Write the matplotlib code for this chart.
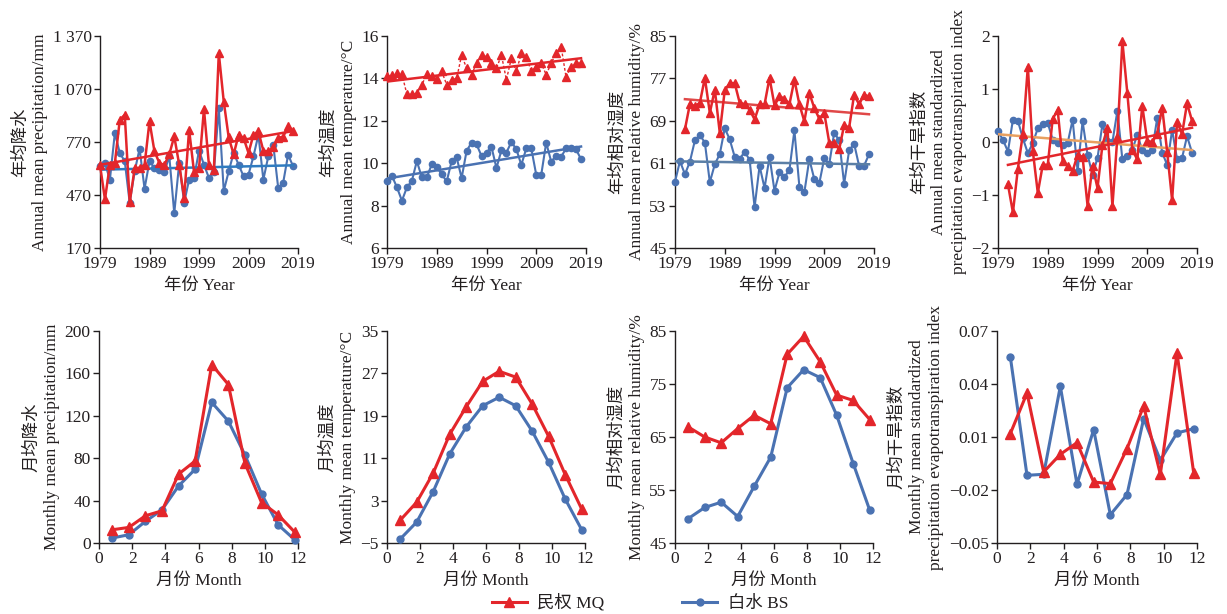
import numpy as np
import matplotlib
matplotlib.use('Agg')
import matplotlib.pyplot as plt
from matplotlib.lines import Line2D

plt.rcParams['font.family'] = ['Liberation Serif', 'Noto Sans CJK SC']
plt.rcParams['font.size'] = 12.5
plt.rcParams['axes.unicode_minus'] = True
plt.rcParams['text.color'] = '#231f20'
plt.rcParams['axes.labelcolor'] = '#231f20'
plt.rcParams['xtick.color'] = '#231f20'
plt.rcParams['ytick.color'] = '#231f20'

RED = '#e3262b'
BLUE = '#4a72b2'

# ---------------- data ----------------
years = np.arange(1979, 2019)
years_mq_rh = np.arange(1981, 2019)
years_mq_spei = np.arange(1981, 2019)
months = np.arange(1, 13)

prec_mq = [640, 445, 642, 650, 896, 924, 430, 620, 625, 640,
           887, 717, 651, 640, 700, 802, 642, 454, 840, 600,
           620, 956, 642, 610, 1272, 999, 796, 700, 811, 793,
           708, 811, 830, 720, 717, 740, 793, 800, 858, 834]
prec_bs = [633, 650, 557, 821, 708, 661, 426, 604, 732, 505,
           661, 623, 610, 600, 689, 366, 651, 426, 557, 567,
           721, 642, 567, 600, 962, 492, 604, 708, 642, 576,
           585, 689, 811, 557, 689, 755, 510, 539, 698, 633]

temp_mq = [14.1, 14.15, 14.25, 14.2, 13.25, 13.25, 13.3, 13.7, 14.2, 14.1,
           13.97, 14.33, 13.7, 13.94, 14.0, 15.1, 14.48, 14.17, 14.72, 15.1,
           15.03, 14.72, 14.48, 15.1, 13.94, 14.95, 14.33, 15.19, 15.03, 14.33,
           14.56, 14.72, 14.17, 14.72, 15.19, 15.5, 14.05, 14.56, 14.72, 14.72]
temp_bs = [9.17, 9.4, 8.86, 8.23, 8.86, 9.17, 10.1, 9.33, 9.33, 9.95,
           9.8, 9.48, 9.14, 10.1, 10.27, 9.3, 10.58, 10.97, 10.89, 10.34,
           10.5, 10.77, 9.77, 10.61, 10.5, 11.0, 10.66, 9.92, 10.7, 10.7,
           9.45, 9.45, 10.97, 10.08, 10.34, 10.3, 10.7, 10.7, 10.65, 10.19]

rh_mq = [67.4, 72.2, 71.75, 72.4, 77.1, 70.5, 74.9, 66.75, 74.75, 76.1,
         76.1, 72.4, 72.1, 71.1, 69.25, 72.1, 72.1, 77.1, 71.9, 73.6,
         73.2, 72.1, 76.75, 72.1, 68.9, 74.25, 71.4, 69.4, 70.5, 64.9,
         64.9, 63.6, 68.2, 67.7, 73.9, 72.1, 73.9, 73.6]
rh_bs = [57.5, 61.4, 58.9, 61.3, 65.3, 66.3, 64.9, 57.4, 60.8, 62.7,
         67.6, 65.5, 62.2, 61.75, 63.2, 61.6, 52.7, 60.5, 56.3, 62.2,
         55.8, 59.25, 58.4, 59.7, 67.2, 56.6, 55.5, 61.75, 58.0, 57.2,
         61.9, 60.8, 66.75, 65.3, 57.1, 63.4, 64.7, 60.5, 60.5, 62.7]

spei_mq = [-0.8, -1.33, -0.5, 0.15, 1.42, -0.17, -0.96, -0.43, -0.43, 0.44,
           0.6, -0.35, -0.46, -0.55, -0.24, -0.28, -1.2, -0.45, -0.87, -0.05,
           0.26, -1.21, 0.1, 1.9, 0.92, -0.15, -0.33, 0.68, 0.02, 0.0,
           0.15, 0.65, -0.18, -1.1, 0.38, 0.15, 0.73, 0.4]
spei_bs = [0.2, 0.04, -0.18, 0.42, 0.4, 0.07, -0.21, -0.02, 0.26, 0.34,
           0.36, 0.04, -0.02, -0.05, -0.02, 0.42, -0.55, 0.39, -0.24, -0.62,
           -0.3, 0.34, 0.01, 0.0, 0.59, -0.33, -0.27, -0.15, 0.14, -0.16,
           -0.21, -0.15, 0.45, -0.2, -0.43, 0.23, -0.33, -0.3, 0.11, -0.2]

mprec_mq = [12.5, 14.7, 25.7, 30.4, 65.0, 77.4, 168.3, 149.5, 75.2, 38.2, 26.6, 10.3]
mprec_bs = [4.7, 7.8, 20.4, 31.3, 53.9, 69.6, 132.6, 115.0, 83.0, 46.4, 17.2, 3.1]
mtemp_mq = [-0.7, 2.7, 8.2, 15.5, 20.7, 25.5, 27.4, 26.3, 21.2, 15.1, 7.9, 1.4]
mtemp_bs = [-4.25, -1.05, 4.7, 11.8, 16.9, 20.9, 22.5, 20.9, 16.1, 10.2, 3.3, -2.5]
mrh_mq = [66.9, 65.0, 63.9, 66.6, 69.1, 67.5, 80.6, 84.0, 79.2, 72.9, 71.9, 68.3]
mrh_bs = [49.6, 51.7, 52.7, 50.0, 55.7, 61.2, 74.3, 77.7, 76.2, 69.1, 60.0, 51.2]
mspei_mq = [0.0119, 0.0349, -0.0098, 0.0002, 0.0068, -0.0155, -0.0164, 0.0034, 0.0276, -0.0111, 0.0575, -0.0102]
mspei_bs = [0.0553, -0.0117, -0.0111, 0.0387, -0.0168, 0.0142, -0.034, -0.0226, 0.0204, -0.0032, 0.0123, 0.0147]

year_ticks = [1979, 1989, 1999, 2009, 2019]
month_ticks = [0, 2, 4, 6, 8, 10, 12]

# ---------------- layout ----------------
W, H = 1227, 614
fig = plt.figure(figsize=(W / 100, H / 100), dpi=100)


def rect(left, top, right, bottom):
    return [left / W, 1 - bottom / H, (right - left) / W, (bottom - top) / H]


def style(ax):
    for s in ['top', 'right']:
        ax.spines[s].set_visible(False)
    for s in ['left', 'bottom']:
        ax.spines[s].set_linewidth(1.0)
        ax.spines[s].set_color('#231f20')
    ax.tick_params(direction='out', length=4, width=1.0, pad=2)


def trend(ax, x, y, color, lw=1.8):
    x = np.asarray(x, float)
    p = np.polyfit(x, np.asarray(y, float), 1)
    ax.plot(x, np.polyval(p, x), color=color, lw=lw, zorder=4)


# ---- top row: annual ----
top_specs = [
    (100, 298, prec_bs, prec_mq, years, (170, 1370), [170, 470, 770, 1070, 1370],
     ['170', '470', '770', '1 070', '1 370'], '年均降水\nAnnual mean precipitation/mm',
     '#2f7bc0', RED),
    (387, 586, temp_bs, temp_mq, years, (6, 16), [6, 8, 10, 12, 14, 16], None,
     '年均温度\nAnnual mean temperature/°C', BLUE, RED),
    (675, 874, rh_bs, rh_mq, years_mq_rh, (45, 85), [45, 53, 61, 69, 77, 85], None,
     '年均相对湿度\nAnnual mean relative humidity/%', '#5b7fa6', '#e04848'),
    (998, 1197, spei_bs, spei_mq, years_mq_spei, (-2, 2), [-2, -1, 0, 1, 2], None,
     '年均干旱指数\nAnnual mean standardized\nprecipitation evapotranspiration index',
     '#e8a060', RED),
]

for i, (l, r, bs, mq, ymq, ylim, yt, ytl, ylab, tcb, tcr) in enumerate(top_specs):
    ax = fig.add_axes(rect(l, 36, r, 248))
    style(ax)
    ax.plot(years, bs, color=BLUE, lw=1.5, marker='o', ms=4.5, zorder=3, clip_on=False)
    red_ls = (0, (2, 1.5)) if i == 1 else '-'
    red_lw = 1.0 if i == 1 else 1.8
    ax.plot(ymq, mq, color=RED, lw=red_lw, ls=red_ls, marker='^', ms=6, zorder=5, clip_on=False)
    trend(ax, years, bs, tcb)
    trend(ax, ymq, mq, tcr)
    ax.set_xlim(1979, 2019)
    ax.set_ylim(*ylim)
    ax.set_xticks(year_ticks)
    ax.set_yticks(yt)
    if ytl is not None:
        ax.set_yticklabels(ytl)
    ax.set_xlabel('年份 Year', labelpad=4)
    ax.set_ylabel(ylab, labelpad=3, linespacing=1.3)

# ---- bottom row: monthly ----
bot_specs = [
    (99, 298, mprec_bs, mprec_mq, (0, 200), [0, 40, 80, 120, 160, 200],
     '月均降水\nMonthly mean precipitation/mm'),
    (387, 585, mtemp_bs, mtemp_mq, (-5, 35), [-5, 3, 11, 19, 27, 35],
     '月均温度\nMonthly mean temperature/°C'),
    (675, 873, mrh_bs, mrh_mq, (45, 85), [45, 55, 65, 75, 85],
     '月均相对湿度\nMonthly mean relative humidity/%'),
    (997, 1197, mspei_bs, mspei_mq, (-0.05, 0.07), [-0.05, -0.02, 0.01, 0.04, 0.07],
     '月均干旱指数\nMonthly mean standardized\nprecipitation evapotranspiration index'),
]

mx = months - 0.2
for i, (l, r, bs, mq, ylim, yt, ylab) in enumerate(bot_specs):
    ax = fig.add_axes(rect(l, 331, r, 543))
    style(ax)
    ax.plot(mx, bs, color=BLUE, lw=2.2, marker='o', ms=5, zorder=3, clip_on=False)
    ax.plot(mx, mq, color=RED, lw=2.2, marker='^', ms=6.5, zorder=4, clip_on=False)
    ax.set_xlim(0, 12)
    ax.set_ylim(*ylim)
    ax.set_xticks(month_ticks)
    ax.set_yticks(yt)
    if i == 3:
        ax.set_yticklabels(['−0.05', '−0.02', '0.01', '0.04', '0.07'])
    ax.set_xlabel('月份 Month', labelpad=4)
    ax.set_ylabel(ylab, labelpad=3, linespacing=1.3)

leg_r = Line2D([], [], color=RED, lw=2.2, marker='^', ms=6.5)
leg_b = Line2D([], [], color=BLUE, lw=2.2, marker='o', ms=5)
fig.legend([leg_r, leg_b], ['民权 MQ', '白水 BS'], loc='center',
           bbox_to_anchor=(640 / W, 1 - 603 / H), ncol=2, frameon=False,
           handlelength=2.0, columnspacing=4.5, handletextpad=0.6)

fig.savefig('out.png', dpi=100)
